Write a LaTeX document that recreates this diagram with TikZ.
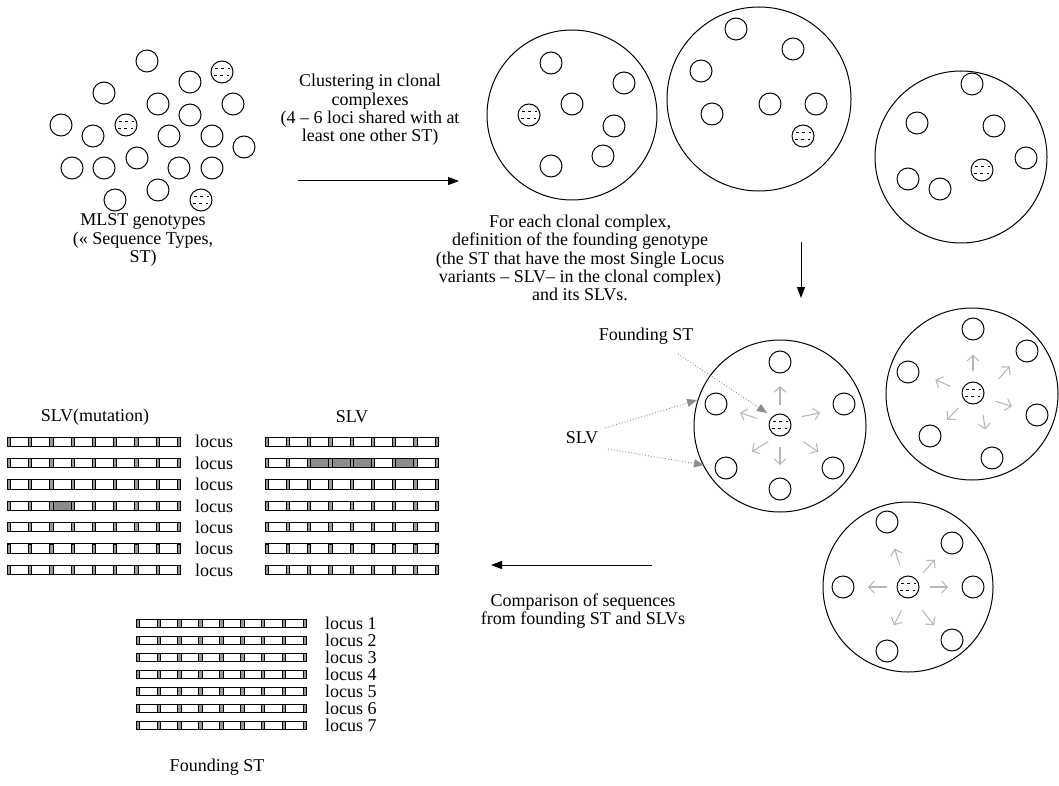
\documentclass[tikz,border=0pt]{standalone}
\usepackage{fontspec}
\setmainfont{Liberation Serif}
\usetikzlibrary{arrows.meta,calc}
\newcommand\mlstbar[4]{% x left, y centre, height, period
  \draw[barline] (#1,{#2-#3/2}) rectangle ++({8*#4+3.2},#3);
  \foreach \k in {0,...,8}{
    \draw[narrowcell] ({#1+\k*#4},{#2-#3/2}) rectangle ++(3.2,#3);
  }
}
\newcommand\mlstcell[5]{% x left, y centre, height, period, cell index
  \fill[mutfill] ({#1+3.2+(#5-1)*#4},{#2-#3/2}) rectangle ++({#4-3.2},#3);
}
\begin{document}
\begin{tikzpicture}[x=1pt,y=-1pt,
  sc/.style={circle,draw,line width=1pt,minimum size=22pt,inner sep=0pt},
  dc/.style={sc,path picture={
      \draw[line width=1.4pt,dash pattern=on 2.6pt off 3.8pt]
        ([xshift=-7pt,yshift=3.5pt]path picture bounding box.center) -- ++(15pt,0pt);
      \draw[line width=1.4pt,dash pattern=on 2.6pt off 3.8pt]
        ([xshift=-8pt,yshift=-3.5pt]path picture bounding box.center) -- ++(16pt,0pt);}},
  bigc/.style={circle,draw,line width=1pt,inner sep=0pt,minimum size=#1},
  txt/.style={font=\fontsize{18}{18.4}\selectfont,align=center,inner sep=0pt},
  ltxt/.style={font=\fontsize{18}{18.4}\selectfont,anchor=west,inner sep=0pt},
  blackarrow/.style={line width=1pt,-{Triangle[length=11pt,width=8pt]}},
  garrow/.style={draw=black!28,line width=1.1pt,-{Straight Barb[length=5.5pt,width=12pt]}},
  dotarrow/.style={draw=black!45,line width=0.9pt,dotted,-{Triangle[length=10pt,width=8pt,fill=black!45]}},
  barline/.style={line width=1pt},
  narrowcell/.style={line width=0.8pt,fill=black!40},
  mutfill/.style={fill=black!45}
]
\useasboundingbox (0,0) rectangle (1059,786);

% ---------------- MLST genotypes cluster
\foreach \p [count=\i] in {(147,61),(190,82),(104,93),(158,104),(233,104),(190,115),(61,125),(93,136),(169,136),(212,136),(244,147),(137,158),(72,168),(104,168),(179,168),(212,168),(158,190),(115,200)}
  \node[sc] (g\i) at \p {};
\node[dc] (gd1) at (222,72) {};
\node[dc] (gd2) at (126,125) {};
\node[dc] (gd3) at (201,200) {};
\node[txt] (mlst) at (143,240) {MLST genotypes\\(« Sequence Types,\\ST)};

% ---------------- clustering arrow
\node[txt] (clust) at (370,110) {Clustering in clonal\\complexes\\(4 – 6 loci shared with at\\least one other ST)};
\coordinate (a1s) at (298,181);
\coordinate (a1e) at (459,181);
\draw[blackarrow] (a1s) -- (a1e);

% ---------------- clonal complexes (top)
\node[bigc=170pt] (c1) at (572,115) {};
\foreach \p [count=\i] in {(551,63),(624,83),(572,104),(614,126),(603,156),(551,166)}
  \node[sc] (c1s\i) at \p {};
\node[dc] (c1d) at (529,115) {};

\node[bigc=184pt] (c2) at (759,99) {};
\foreach \p [count=\i] in {(736,29),(793,49),(701,71),(712,114),(770,104),(816,104)}
  \node[sc] (c2s\i) at \p {};
\node[dc] (c2d) at (803,136) {};

\node[bigc=172pt] (c3) at (961,157) {};
\foreach \p [count=\i] in {(972,84),(917,123),(994,126),(1026,158),(908,179),(940,189)}
  \node[sc] (c3s\i) at \p {};
\node[dc] (c3d) at (982,170) {};

\node[txt] (founddef) at (580,258) {For each clonal complex,\\definition of the founding genotype\\(the ST that have the most Single Locus\\variants – SLV– in the clonal complex)\\and its SLVs.};

\coordinate (a2s) at (801,242);
\coordinate (a2e) at (801,298);
\draw[blackarrow] (a2s) -- (a2e);

% ---------------- clonal complexes with founding ST
\node[bigc=172pt] (c4) at (780,426) {};
\foreach \p [count=\i] in {(780,362),(716,404),(844,404),(726,468),(833,468),(780,489)}
  \node[sc] (c4s\i) at \p {};
\node[dc] (f4) at (780,425) {};
\foreach \ax/\ay/\bx/\by in {0/-20/0/-39, -23.3/-6.7/-40/-12.3, 21.7/-8.3/40/-12.3, -11.7/16.7/-28.3/26.7, 0/21.7/0/40, 23.3/16.7/38.3/26.7}
  \draw[garrow] ($(f4)+(\ax,\ay)$) -- ($(f4)+(\bx,\by)$);

\node[bigc=172pt] (c5) at (972,394) {};
\foreach \p [count=\i] in {(973,329),(1027,351),(908,372),(1037,415),(930,436),(992,458)}
  \node[sc] (c5s\i) at \p {};
\node[dc] (f5) at (973,393) {};
\foreach \ax/\ay/\bx/\by in {0/-21.7/0/-38.3, 25.7/-14/36.7/-26.7, -22.7/-6.7/-37.7/-13.3, 22.3/8.3/39/13.3, -14.3/15/-26/26.7, 10/21.7/12.3/36.7}
  \draw[garrow] ($(f5)+(\ax,\ay)$) -- ($(f5)+(\bx,\by)$);

\node[bigc=170pt] (c6) at (908,587) {};
\foreach \p [count=\i] in {(887,522),(952,543),(843,587),(973,587),(952,640),(887,651)}
  \node[sc] (c6s\i) at \p {};
\node[dc] (f6) at (908,587) {};
\foreach \ax/\ay/\bx/\by in {-8.3/-21.7/-13.3/-38.3, 15/-14/26.7/-27.3, -21/0/-40/0, 21.7/0/40/0, -6.7/23.3/-14/38.3, 14.3/23.3/26/38.3}
  \draw[garrow] ($(f6)+(\ax,\ay)$) -- ($(f6)+(\bx,\by)$);

% labels with dotted arrows
\node[txt] (fstlab) at (646,336) {Founding ST};
\coordinate (fsta) at (678,354);
\coordinate (fstb) at (767,413);
\draw[dotarrow] (fsta) -- (fstb);
\node[txt] (slvlab) at (582,438) {SLV};
\coordinate (slv1a) at (605,428);
\coordinate (slv1b) at (697,400);
\coordinate (slv2a) at (608,449);
\coordinate (slv2b) at (704,465);
\draw[dotarrow] (slv1a) -- (slv1b);
\draw[dotarrow] (slv2a) -- (slv2b);

% ---------------- comparison arrow
\coordinate (a3s) at (652,565);
\coordinate (a3e) at (491,565);
\draw[blackarrow] (a3s) -- (a3e);
\node[txt] (comp) at (583,611) {Comparison of sequences\\from founding ST and SLVs};

% ---------------- sequences
\node[txt] (slvmut) at (95,417) {SLV(mutation)};
\node[txt] (slvtit) at (352,417) {SLV};
\mlstcell{7.3}{505.8}{9.3}{21.25}{3}
\foreach \c in {3,4,5,7} {\mlstcell{265}{463.1}{9.3}{21.25}{\c}}
\foreach \r in {0,...,6}{
  \mlstbar{7.3}{441.7+\r*21.38}{9.3}{21.25}
  \mlstbar{265}{441.7+\r*21.38}{9.3}{21.25}
  \node[ltxt] (loc\r) at (195,441.7+\r*21.38) {locus};
}
\foreach \r [count=\n] in {0,...,6}{
  \mlstbar{136}{623.3+\r*16.95}{8}{20.94}
  \node[ltxt] (floc\n) at (325,623.3+\r*16.95) {locus \n};
}
\node[txt] (fst) at (217,767) {Founding ST};
\end{tikzpicture}
\end{document}
